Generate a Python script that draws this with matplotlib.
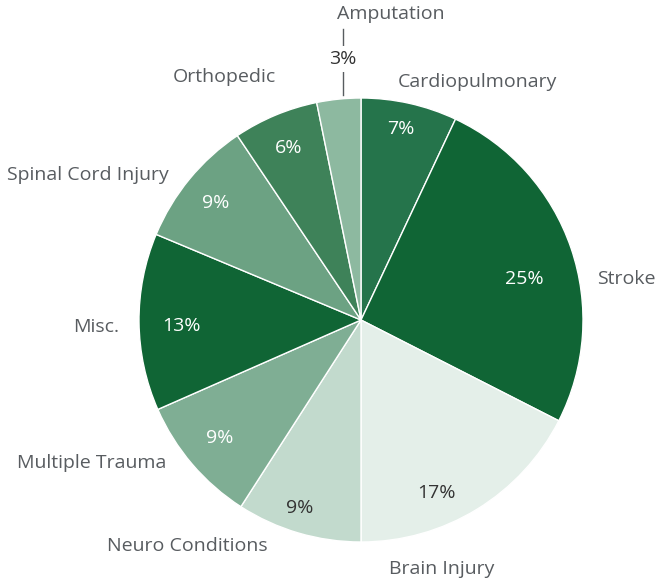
import numpy as np
import matplotlib.pyplot as plt

plt.rcParams['font.family'] = ['Open Sans', 'DejaVu Sans']

categories = ["Cardiopulmonary", "Stroke", "Brain Injury", "Neuro Conditions",
              "Multiple Trauma", "Misc.", "Spinal Cord Injury", "Orthopedic", "Amputation"]
shares = [7.0, 25.5, 17.5, 9.1, 9.3, 12.9, 9.3, 6.2, 3.2]
pct_labels = ["7%", "25%", "17%", "9%", "9%", "13%", "9%", "6%", "3%"]

colors = ["#25744b", "#106535", "#e4efe9", "#c2dacd", "#7fae94",
          "#106535", "#6ca283", "#3e8259", "#8db9a0"]
pct_colors = ["white", "white", "#333333", "#333333", "white",
              "white", "white", "white", "#333333"]
# label placement: (angle from top clockwise in deg, radius factor)
name_pos = [(26.0, 1.193), (81.2, 1.208), (162.0, 1.179), (217.6, 1.285),
            (242.0, 1.372), (268.5, 1.194), (298.0, 1.392), (330.6, 1.257), (5.6, 1.385)]
pct_pos = [(11.8, 0.88), (76.0, 0.76), (156.4, 0.85), (198.0, 0.89),
           (230.0, 0.83), (268.0, 0.81), (309.0, 0.84), (337.0, 0.84), (356.0, 1.18)]


def polar(angle, r):
    a = np.deg2rad(angle)
    return r * np.sin(a), r * np.cos(a)


fig = plt.figure(figsize=(6.56, 5.81), dpi=100)
ax = fig.add_axes([0, 0, 1, 1])
ax.pie(shares, colors=colors, startangle=90, counterclock=False, radius=1.0,
       wedgeprops=dict(edgecolor="white", linewidth=1.0))

for name, (ang, r) in zip(categories, name_pos):
    x, y = polar(ang, r)
    ax.text(x, y, name, ha="center", va="center", fontsize=14, color="#585c60")

# leader line for the small last slice, from its mid angle
cum = np.cumsum(shares) / np.sum(shares) * 360
mid_last = (cum[-2] + cum[-1]) / 2
x0, y0 = polar(mid_last, 1.0)
ax.plot([x0 + 0.02, x0 + 0.02], [y0 + 0.02, y0 + 0.315], color="#585c60", lw=1.0)

for i, (txt, col, (ang, r)) in enumerate(zip(pct_labels, pct_colors, pct_pos)):
    x, y = polar(ang, r)
    bbox = None
    if i == len(pct_labels) - 1:
        x = x0 + 0.02
        bbox = dict(facecolor="white", edgecolor="none", pad=3)
    ax.text(x, y, txt, ha="center", va="center", fontsize=14, color=col, bbox=bbox)

ax.set_xlim(-361 / 222, (656 - 361) / 222)
ax.set_ylim(-261 / 222, 320 / 222)
ax.set_aspect("auto")
ax.axis("off")

fig.savefig("out.png", dpi=100)
